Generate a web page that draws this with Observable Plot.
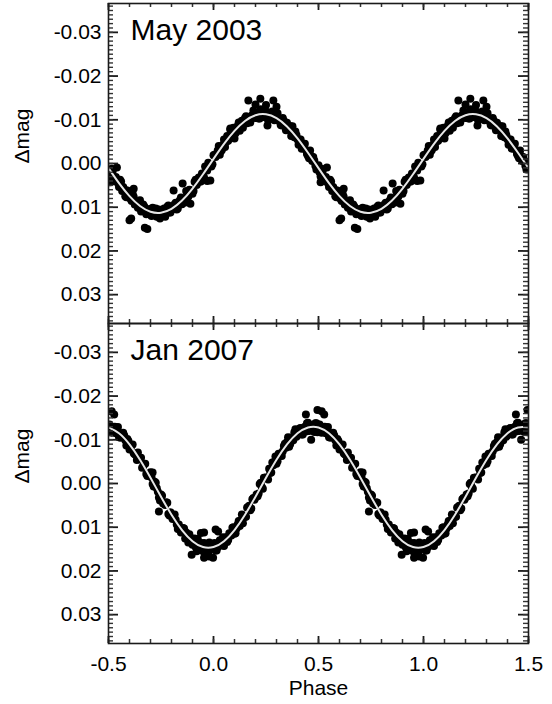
<!DOCTYPE html>
<html><head><meta charset="utf-8">
<script src="https://cdn.jsdelivr.net/npm/d3@7"></script>
<script src="https://cdn.jsdelivr.net/npm/@observablehq/plot@0.6"></script>
<style>
body{margin:0;background:#fff;}
#chart{position:relative;width:552px;height:704px;}
#chart svg{display:block;}
</style></head><body><div id="chart"></div>
<script>
// ---- data ----
const panelTitles = ["May 2003", "Jan 2007"];
const yLabel = "\u0394mag";
const xLabel = "Phase";
const yTicks = [-0.03, -0.02, -0.01, 0, 0.01, 0.02, 0.03];
const xTicks = [-0.5, 0, 0.5, 1, 1.5];

// phases of the folded observations (one cycle, plotted twice: phase and phase+1)
const obsPhaseA = [
-0.495,-0.485,-0.475,-0.465,-0.455,-0.445,-0.435,-0.425,-0.415,-0.405,
-0.395,-0.385,-0.375,-0.365,-0.355,-0.345,-0.335,-0.325,-0.315,-0.305,
-0.295,-0.285,-0.275,-0.265,-0.255,-0.245,-0.235,-0.225,-0.215,-0.205,
-0.195,-0.185,-0.175,-0.165,-0.155,-0.145,-0.135,-0.125,-0.115,-0.105,
-0.095,-0.085,-0.075,-0.065,-0.055,-0.045,-0.035,-0.025,-0.015,-0.005,
0.005,0.015,0.025,0.035,0.045,0.055,0.065,0.075,0.085,0.095,
0.105,0.115,0.125,0.135,0.145,0.155,0.165,0.175,0.185,0.195,
0.205,0.215,0.225,0.235,0.245,0.255,0.265,0.275,0.285,0.295,
0.305,0.315,0.325,0.335,0.345,0.355,0.365,0.375,0.385,0.395,
0.405,0.415,0.425,0.435,0.445,0.455,0.465,0.475,0.485,0.495];
const obsPhaseB = [
-0.49,-0.48,-0.47,-0.46,-0.45,-0.44,-0.43,-0.42,-0.41,-0.40,
-0.39,-0.38,-0.37,-0.36,-0.35,-0.34,-0.33,-0.32,-0.31,-0.30,
-0.29,-0.28,-0.27,-0.26,-0.25,-0.24,-0.23,-0.22,-0.21,-0.20,
-0.19,-0.18,-0.17,-0.16,-0.15,-0.14,-0.13,-0.12,-0.11,-0.10,
-0.09,-0.08,-0.07,-0.06,-0.05,-0.04,-0.03,-0.02,-0.01,0.00,
0.01,0.02,0.03,0.04,0.05,0.06,0.07,0.08,0.09,0.10,
0.11,0.12,0.13,0.14,0.15,0.16,0.17,0.18,0.19,0.20,
0.21,0.22,0.23,0.24,0.25,0.26,0.27,0.28,0.29,0.30,
0.31,0.32,0.33,0.34,0.35,0.36,0.37,0.38,0.39,0.40,
0.41,0.42,0.43,0.44,0.45,0.46,0.47,0.48,0.49,0.50];

const may2003MagA = [
0.0020,0.0012,0.0040,0.0031,0.0045,0.0037,0.0063,0.0059,0.0077,0.0065,
0.0081,0.0069,0.0094,0.0093,0.0090,0.0110,0.0094,0.0107,0.0113,0.0104,
0.0120,0.0109,0.0103,0.0119,0.0126,0.0111,0.0103,0.0114,0.0096,0.0112,
0.0104,0.0093,0.0105,0.0088,0.0078,0.0087,0.0089,0.0070,0.0060,0.0064,
0.0063,0.0037,0.0043,0.0041,0.0023,0.0032,0.0011,-0.0002,0.0004,0.0002,
-0.0020,-0.0019,-0.0040,-0.0028,-0.0043,-0.0038,-0.0063,-0.0058,-0.0062,-0.0082,
-0.0069,-0.0086,-0.0075,-0.0098,-0.0094,-0.0108,-0.0096,-0.0094,-0.0111,-0.0117,
-0.0107,-0.0103,-0.0124,-0.0111,-0.0106,-0.0117,-0.0101,-0.0112,-0.0116,-0.0100,
-0.0115,-0.0096,-0.0087,-0.0098,-0.0076,-0.0083,-0.0086,-0.0068,-0.0060,-0.0065,
-0.0043,-0.0055,-0.0040,-0.0045,-0.0022,-0.0012,-0.0017,-0.0015,0.0005,0.0008];
const may2003MagB = [
0.0030,0.0017,0.0037,0.0037,0.0054,0.0041,0.0054,0.0075,0.0062,0.0077,
0.0086,0.0076,0.0092,0.0101,0.0084,0.0105,0.0098,0.0116,0.0107,0.0117,
0.0101,0.0114,0.0122,0.0105,0.0118,0.0108,0.0122,0.0099,0.0112,0.0103,
0.0104,0.0090,0.0103,0.0084,0.0093,0.0082,0.0063,0.0076,0.0061,0.0069,
0.0042,0.0049,0.0032,0.0041,0.0026,0.0007,0.0016,0.0002,0.0007,-0.0019,
-0.0015,-0.0030,-0.0020,-0.0031,-0.0055,-0.0049,-0.0052,-0.0077,-0.0061,-0.0079,
-0.0075,-0.0094,-0.0088,-0.0082,-0.0104,-0.0092,-0.0107,-0.0102,-0.0121,-0.0104,
-0.0113,-0.0103,-0.0121,-0.0110,-0.0119,-0.0099,-0.0108,-0.0119,-0.0099,-0.0109,
-0.0101,-0.0088,-0.0104,-0.0085,-0.0093,-0.0082,-0.0063,-0.0063,-0.0073,-0.0055,
-0.0055,-0.0034,-0.0044,-0.0031,-0.0017,-0.0030,-0.0006,-0.0007,0.0014,0.0004];

const may2003ExtraPhase = [-0.46,-0.49,-0.38,-0.40,-0.392,-0.315,-0.327,-0.19,-0.147,-0.11,-0.015,-0.03,
  0.166,0.223,0.285,0.30,0.257,0.376,0.10,0.08,0.20,0.25];
const may2003ExtraMag = [0.0009,0.0043,0.0058,0.0130,0.0126,0.0150,0.0147,0.0062,0.0046,0.0092,0.0039,0.0040,
  -0.0144,-0.0148,-0.0144,-0.0130,-0.0087,-0.0085,-0.0057,-0.0080,-0.0135,-0.0134];

const jan2007MagA = [
-0.0135,-0.0116,-0.0126,-0.0115,-0.0129,-0.0105,-0.0107,-0.0110,-0.0087,-0.0097,
-0.0083,-0.0089,-0.0067,-0.0054,-0.0060,-0.0059,-0.0039,-0.0045,-0.0017,-0.0017,
-0.0014,0.0007,-0.0002,0.0019,0.0039,0.0028,0.0046,0.0043,0.0070,0.0066,
0.0081,0.0071,0.0094,0.0094,0.0112,0.0102,0.0126,0.0121,0.0116,0.0135,
0.0130,0.0145,0.0127,0.0149,0.0147,0.0136,0.0154,0.0159,0.0142,0.0149,
0.0136,0.0153,0.0138,0.0142,0.0123,0.0131,0.0134,0.0114,0.0119,0.0100,
0.0114,0.0094,0.0097,0.0071,0.0077,0.0076,0.0054,0.0061,0.0036,0.0037,
0.0025,0.0023,-0.0002,0.0012,-0.0013,-0.0012,-0.0034,-0.0025,-0.0042,-0.0062,
-0.0051,-0.0068,-0.0063,-0.0086,-0.0082,-0.0106,-0.0090,-0.0100,-0.0117,-0.0107,
-0.0115,-0.0127,-0.0112,-0.0130,-0.0138,-0.0120,-0.0131,-0.0125,-0.0138,-0.0117];
const jan2007MagB = [
-0.0126,-0.0120,-0.0130,-0.0122,-0.0106,-0.0105,-0.0116,-0.0099,-0.0102,-0.0078,
-0.0087,-0.0069,-0.0065,-0.0071,-0.0055,-0.0036,-0.0044,-0.0022,-0.0019,-0.0026,
0.0001,-0.0004,0.0011,0.0032,0.0025,0.0046,0.0049,0.0044,0.0073,0.0075,
0.0072,0.0083,0.0104,0.0106,0.0108,0.0103,0.0112,0.0135,0.0124,0.0140,
0.0126,0.0144,0.0145,0.0136,0.0155,0.0145,0.0154,0.0135,0.0148,0.0139,
0.0153,0.0146,0.0130,0.0133,0.0143,0.0123,0.0129,0.0119,0.0101,0.0115,
0.0103,0.0086,0.0084,0.0091,0.0076,0.0055,0.0051,0.0057,0.0033,0.0032,
0.0029,0.0001,0.0008,-0.0013,-0.0014,-0.0009,-0.0024,-0.0048,-0.0050,-0.0045,
-0.0068,-0.0064,-0.0074,-0.0091,-0.0095,-0.0084,-0.0105,-0.0099,-0.0124,-0.0111,
-0.0126,-0.0112,-0.0127,-0.0119,-0.0139,-0.0126,-0.0134,-0.0118,-0.0138,-0.0122];

const jan2007ExtraPhase = [-0.485,0.495,-0.473,0.44,0.465,-0.045,-0.002,-0.02,-0.104,-0.06,-0.045,0.01,0.022,-0.29,-0.26,-0.08];
const jan2007ExtraMag = [-0.0165,-0.0168,-0.0158,-0.0158,-0.0100,0.0170,0.0170,0.0167,0.0163,0.0113,0.0112,0.0105,0.0110,-0.0025,0.0064,0.0155];

// fitted curve, one cycle
const fitPhase = [-0.5,-0.45,-0.4,-0.35,-0.3,-0.25,-0.2,-0.15,-0.1,-0.05,0,0.05,0.1,0.15,0.2,0.25,0.3,0.35,0.4,0.45];
const may2003Fit = [0.00106,0.00449,0.00747,0.00973,0.01103,0.01125,0.01037,0.00848,0.00575,0.00246,
  -0.00106,-0.00449,-0.00747,-0.00973,-0.01103,-0.01125,-0.01037,-0.00848,-0.00575,-0.00246];
const jan2007Fit = [-0.01283,-0.01149,-0.00894,-0.00544,-0.00132,0.00302,0.00714,0.01064,0.01319,0.01453,
  0.01453,0.01319,0.01064,0.00714,0.00302,-0.00132,-0.00544,-0.00894,-0.01149,-0.01283];

// ---- build ----
const W = 552, ML = 108, MR = 24, PH = 320;
const innerW = W - ML - MR;
const font = "'Liberation Sans', Arial, Helvetica, sans-serif";
const yMinor = d3.range(-36, 37).map(i => i / 1000);
const xMinor = d3.range(-5, 16).map(i => i / 10);

function foldPoints(ph, mg) {
  const out = [];
  ph.forEach((p, i) => { out.push({phase: p, mag: mg[i]}); out.push({phase: p + 1, mag: mg[i]}); });
  return out;
}
function fitLine(fit) {
  const out = [];
  for (const c of [0, 1]) fitPhase.forEach((p, i) => out.push({phase: p + c, mag: fit[i]}));
  out.push({phase: 1.5, mag: fit[0]});
  return out;
}

function panel(title, points, line, top, bottom, showX) {
  const height = top + PH + bottom;
  const ax = "#1a1a1a";
  const marks = [
    Plot.dot(points, {x: "phase", y: "mag", r: 4, fill: "black", stroke: "none", clip: true}),
    Plot.line(line, {x: "phase", y: "mag", stroke: "#e6e6e6", strokeWidth: 2, curve: "natural", clip: true}),
    // inward ticks (left/right)
    Plot.ruleY(yTicks, {y: d => d, insetRight: innerW - 10, stroke: ax, strokeWidth: 1.8}),
    Plot.ruleY(yTicks, {y: d => d, insetLeft: innerW - 10, stroke: ax, strokeWidth: 1.8}),
    Plot.ruleY(yMinor, {y: d => d, insetRight: innerW - 5, stroke: "#333", strokeWidth: 1.4}),
    Plot.ruleY(yMinor, {y: d => d, insetLeft: innerW - 5, stroke: "#333", strokeWidth: 1.4}),
    // inward ticks (top/bottom)
    Plot.ruleX(xTicks, {x: d => d, insetBottom: PH - 7, stroke: ax, strokeWidth: 1.8}),
    Plot.ruleX(xTicks, {x: d => d, insetTop: PH - 7, stroke: ax, strokeWidth: 1.8}),
    Plot.ruleX(xMinor, {x: d => d, insetBottom: PH - 4, stroke: "#333", strokeWidth: 1.5}),
    Plot.ruleX(xMinor, {x: d => d, insetTop: PH - 4, stroke: "#333", strokeWidth: 1.5}),
    Plot.frame({stroke: ax, strokeWidth: 1.6}),
    Plot.axisY(yTicks, {tickSize: 0, tickPadding: 7, tickFormat: d => d.toFixed(2), fontSize: 21, label: null}),
    Plot.text([yLabel], {frameAnchor: "left", dx: -86, rotate: -90, fontSize: 21, fill: "black"}),
    Plot.text([title], {frameAnchor: "top-left", dx: 22, dy: 15, textAnchor: "start", lineAnchor: "top", fontSize: 30, fill: "black"})
  ];
  if (showX) {
    marks.push(Plot.axisX(xTicks, {tickSize: 0, tickPadding: 13, tickFormat: d => d.toFixed(1), fontSize: 21, label: null}));
    marks.push(Plot.text([xLabel], {frameAnchor: "bottom", dy: 51, fontSize: 21, fill: "black"}));
  }
  return Plot.plot({
    width: W, height,
    marginLeft: ML, marginRight: MR, marginTop: top, marginBottom: bottom,
    x: {domain: [-0.5, 1.5], axis: showX ? undefined : null},
    y: {domain: [-0.0366, 0.0366], reverse: true},
    style: {fontFamily: font, fontSize: "21px", color: "black", background: "white", overflow: "visible"},
    marks
  });
}

const p1Points = foldPoints(
  obsPhaseA.concat(obsPhaseB, may2003ExtraPhase),
  may2003MagA.concat(may2003MagB, may2003ExtraMag));
const p2Points = foldPoints(
  obsPhaseA.concat(obsPhaseB, jan2007ExtraPhase),
  jan2007MagA.concat(jan2007MagB, jan2007ExtraMag));

const chart = document.getElementById("chart");
chart.appendChild(panel(panelTitles[0], p1Points, fitLine(may2003Fit), 3, 0, false));
chart.appendChild(panel(panelTitles[1], p2Points, fitLine(jan2007Fit), 0, 61, true));
</script></body></html>
